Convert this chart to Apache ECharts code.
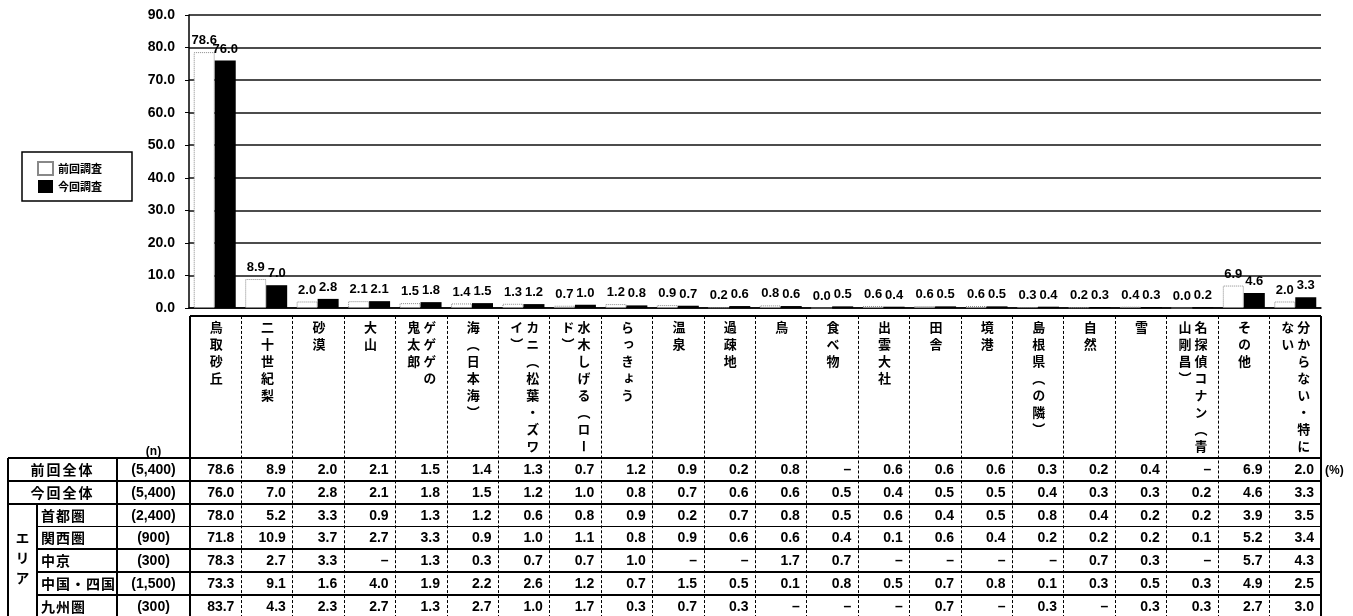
<!DOCTYPE html>
<html>
<head>
<meta charset="utf-8">
<script src="https://cdn.jsdelivr.net/npm/echarts@6/dist/echarts.min.js"></script>
<style>
  html, body { margin: 0; padding: 0; background: #fff; }
  #wrap { position: relative; width: 1353px; height: 616px; overflow: hidden; }
  #chart { position: absolute; left: 0; top: 0; width: 1353px; height: 616px; }
  #table { position: absolute; left: 0; top: 0; width: 1353px; height: 616px; pointer-events: none;
           font-family: 'Liberation Sans', Arial, 'Noto Sans CJK JP', sans-serif; font-weight: bold; color: #000; }
  .c { position: absolute; box-sizing: border-box; white-space: nowrap; }
  .hd { writing-mode: vertical-rl; white-space: pre; font-family: 'Noto Sans CJK JP', sans-serif;
        font-size: 13px; letter-spacing: 4px; line-height: 16px; font-weight: bold; }
  .jp { font-family: 'Noto Sans CJK JP', sans-serif; }
</style>
</head>
<body>
<div id="wrap">
  <div id="chart"></div>
  <div id="table"></div>
</div>
<script>
// カテゴリ（\n は縦書き見出しの改行位置）
const categories = [
  '鳥取砂丘', '二十世紀梨', '砂漠', '大山', 'ゲゲゲの\n鬼太郎', '海（日本海）',
  'カニ（松葉・ズワ\nイ）', '水木しげる（ロー\nド）', 'らっきょう', '温泉', '過疎地', '鳥',
  '食べ物', '出雲大社', '田舎', '境港', '島根県（の隣）', '自然', '雪',
  '名探偵コナン（青\n山剛昌）', 'その他', '分からない・特に\nない'
];
const prevValues = [78.6, 8.9, 2.0, 2.1, 1.5, 1.4, 1.3, 0.7, 1.2, 0.9, 0.2, 0.8, 0.0, 0.6, 0.6, 0.6, 0.3, 0.2, 0.4, 0.0, 6.9, 2.0];
const currValues = [76.0, 7.0, 2.8, 2.1, 1.8, 1.5, 1.2, 1.0, 0.8, 0.7, 0.6, 0.6, 0.5, 0.4, 0.5, 0.5, 0.4, 0.3, 0.3, 0.2, 4.6, 3.3];
const seriesNames = ['前回調査', '今回調査'];
const yMin = 0, yMax = 90, yStep = 10;

// 表の行（null は「–」）
const totalLabels = ['前回全体', '今回全体'];
const totalN = ['(5,400)', '(5,400)'];
const areaLabels = ['首都圏', '関西圏', '中京', '中国・四国', '九州圏'];
const areaN = ['(2,400)', '(900)', '(300)', '(1,500)', '(300)'];
const areaShuto = [78.0, 5.2, 3.3, 0.9, 1.3, 1.2, 0.6, 0.8, 0.9, 0.2, 0.7, 0.8, 0.5, 0.6, 0.4, 0.5, 0.8, 0.4, 0.2, 0.2, 3.9, 3.5];
const areaKansai = [71.8, 10.9, 3.7, 2.7, 3.3, 0.9, 1.0, 1.1, 0.8, 0.9, 0.6, 0.6, 0.4, 0.1, 0.6, 0.4, 0.2, 0.2, 0.2, 0.1, 5.2, 3.4];
const areaChukyo = [78.3, 2.7, 3.3, null, 1.3, 0.3, 0.7, 0.7, 1.0, null, null, 1.7, 0.7, null, null, null, null, 0.7, 0.3, null, 5.7, 4.3];
const areaChugoku = [73.3, 9.1, 1.6, 4.0, 1.9, 2.2, 2.6, 1.2, 0.7, 1.5, 0.5, 0.1, 0.8, 0.5, 0.7, 0.8, 0.1, 0.3, 0.5, 0.3, 4.9, 2.5];
const areaKyushu = [83.7, 4.3, 2.3, 2.7, 1.3, 2.7, 1.0, 1.7, 0.3, 0.7, 0.3, null, null, null, 0.7, null, 0.3, null, 0.3, 0.3, 2.7, 3.0];

// グラフ
const chart = echarts.init(document.getElementById('chart'));
const labelStyle = {
  show: true, position: 'top', distance: 5,
  fontFamily: 'Liberation Sans', fontSize: 13, fontWeight: 'bold', color: '#000',
  formatter: p => p.value.toFixed(1)
};
chart.setOption({
  animation: false,
  grid: { left: 189, right: 32, top: 15, bottom: 308 },
  legend: {
    orient: 'vertical', left: 22, top: 152,
    data: seriesNames, icon: 'rect',
    borderColor: '#000', borderWidth: 1.5, backgroundColor: '#fff',
    padding: [9, 30, 8, 15],
    itemWidth: 15, itemHeight: 13, itemGap: 4,
    textStyle: { fontFamily: 'Noto Sans CJK JP', fontSize: 11, fontWeight: 'bold', color: '#000' }
  },
  xAxis: {
    type: 'category', data: categories,
    axisLine: { show: true, lineStyle: { color: '#000', width: 1.5 } },
    axisTick: { show: false }, axisLabel: { show: false }
  },
  yAxis: {
    type: 'value', min: yMin, max: yMax, interval: yStep,
    axisLine: { show: true, lineStyle: { color: '#000', width: 1.5 } },
    axisTick: { show: true, length: 4, lineStyle: { color: '#000' } },
    axisLabel: { formatter: v => v.toFixed(1), fontFamily: 'Liberation Sans', fontSize: 14, fontWeight: 'bold', color: '#000', margin: 14 },
    splitLine: { lineStyle: { color: '#111', width: 1.5 } }
  },
  series: [
    {
      name: seriesNames[0], type: 'bar', data: prevValues, barWidth: 21, barGap: '0%',
      itemStyle: { color: '#fff', borderColor: '#888', borderWidth: 1, borderType: 'dotted' },
      label: labelStyle
    },
    {
      name: seriesNames[1], type: 'bar', data: currValues, barWidth: 21,
      itemStyle: { color: '#000' },
      label: labelStyle
    }
  ]
});

// 表
const T = document.getElementById('table');
const X_LEFT = 8, X_SUB = 37, X_N = 117, X0 = 190, X1 = 1321;
const CW = (X1 - X0) / categories.length;
const HEAD_TOP = 316, ROW_TOP = 458, RH = 22.8;

function box(x, y, w, h, css, text) {
  const d = document.createElement('div');
  d.className = 'c';
  d.style.cssText = `left:${x}px;top:${y}px;width:${w}px;height:${h}px;` + (css || '');
  if (text != null) d.textContent = text;
  T.appendChild(d);
  return d;
}
function hline(x1, x2, y, w) { box(x1, y - w / 2, x2 - x1, w, 'background:#000;'); }
function vline(x, y1, y2, w, dashed) {
  if (dashed) box(x - 0.5, y1, 1, y2 - y1, 'border-left:1px dashed #000;');
  else box(x - w / 2, y1, w, y2 - y1, 'background:#000;');
}
const fmt = v => (v == null || v === 0) ? '–' : v.toFixed(1);

// 見出し（縦書き）
categories.forEach((name, i) => {
  const d = box(X0 + i * CW, HEAD_TOP + 5, CW, 136, 'display:flex;justify-content:center;align-items:flex-start;');
  const s = document.createElement('span');
  s.className = 'hd';
  s.textContent = name;
  d.appendChild(s);
});
box(X_N, 445, X0 - X_N, 13, 'text-align:center;font-size:12px;line-height:13px;', '(n)');

// データ行
const rows = [
  { label: totalLabels[0], n: totalN[0], values: prevValues },
  { label: totalLabels[1], n: totalN[1], values: currValues },
  { label: areaLabels[0], n: areaN[0], values: areaShuto, area: true },
  { label: areaLabels[1], n: areaN[1], values: areaKansai, area: true },
  { label: areaLabels[2], n: areaN[2], values: areaChukyo, area: true },
  { label: areaLabels[3], n: areaN[3], values: areaChugoku, area: true },
  { label: areaLabels[4], n: areaN[4], values: areaKyushu, area: true }
];
const cellFont = `font-size:14px;line-height:${RH}px;`;
rows.forEach((r, ri) => {
  const y = ROW_TOP + ri * RH;
  if (r.area) {
    box(X_SUB + 4, y, X_N - X_SUB - 4, RH, cellFont + 'letter-spacing:1px;', r.label).classList.add('jp');
  } else {
    box(X_LEFT, y, X_N - X_LEFT, RH, cellFont + 'text-align:center;letter-spacing:2px;', r.label).classList.add('jp');
  }
  box(X_N, y, X0 - X_N, RH, cellFont + 'text-align:center;', r.n);
  r.values.forEach((v, ci) => {
    box(X0 + ci * CW, y, CW, RH, cellFont + 'text-align:right;padding-right:7px;', fmt(v));
  });
});
box(X_LEFT, ROW_TOP + 2 * RH, X_SUB - X_LEFT, RH * 5, 'display:flex;justify-content:center;align-items:center;')
  .innerHTML = '<span class="hd jp" style="font-size:14px;letter-spacing:6px;line-height:16px;">エリア</span>';
box(1325, ROW_TOP + 4, 28, 16, 'font-size:12px;line-height:16px;', '(%)');

// 罫線
const yEnd = ROW_TOP + 7 * RH;
hline(X0, X1, HEAD_TOP, 2);
hline(X_LEFT, X1, ROW_TOP, 2);
hline(X_LEFT, X1, ROW_TOP + RH, 2);
hline(X_LEFT, X1, ROW_TOP + 2 * RH, 2);
for (let i = 3; i < 7; i++) hline(X_SUB, X1, ROW_TOP + i * RH, 1.5);
vline(X_LEFT, ROW_TOP, yEnd, 2);
vline(X_SUB, ROW_TOP + 2 * RH, yEnd, 1.5);
vline(X_N, ROW_TOP, yEnd, 1.5);
vline(X0, HEAD_TOP, yEnd, 1.5);
for (let i = 1; i < categories.length; i++) vline(X0 + i * CW, HEAD_TOP, yEnd, 1, true);
vline(X1, HEAD_TOP, yEnd, 2);
</script>
</body>
</html>
